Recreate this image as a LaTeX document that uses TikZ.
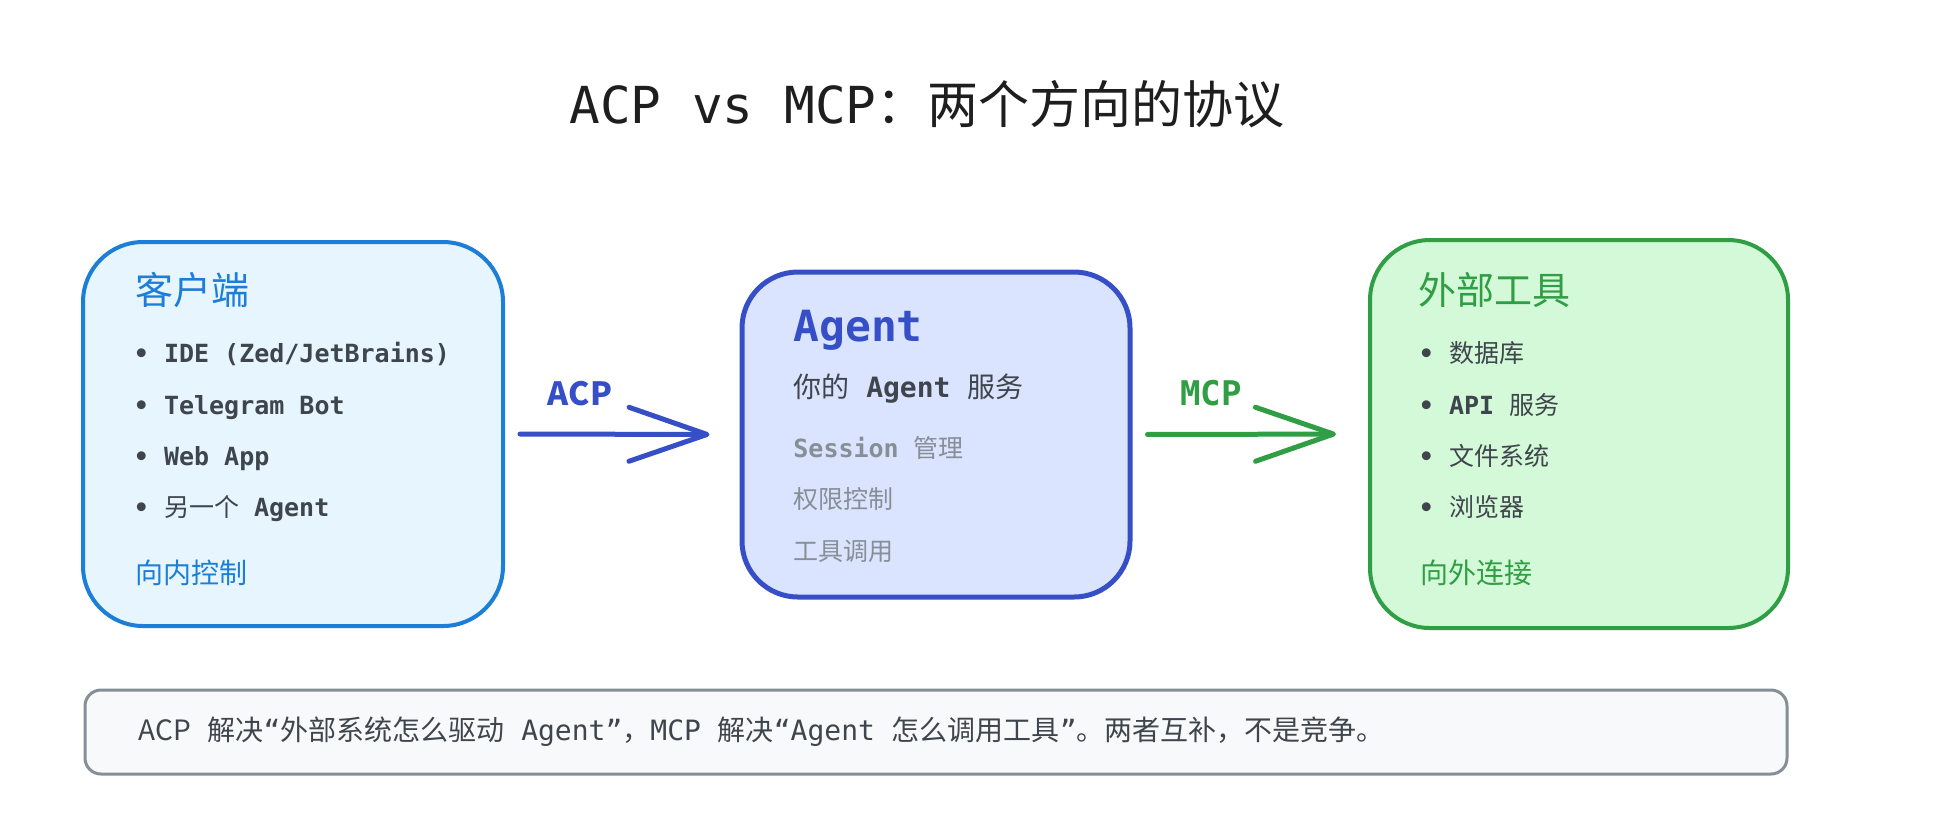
\documentclass[tikz,border=0pt]{standalone}
\usepackage{fontspec}
\setmainfont{DejaVu Sans Mono}
\newfontfamily\cjk{Noto Sans CJK SC}
\newcommand{\zh}[1]{{\cjk\mdseries #1}}
\usetikzlibrary{arrows.meta}
\definecolor{clientblue}{HTML}{1C7ED6}
\definecolor{clientfill}{HTML}{E7F5FF}
\definecolor{agentblue}{HTML}{364FC7}
\definecolor{agentfill}{HTML}{DBE4FF}
\definecolor{toolgreen}{HTML}{2F9E44}
\definecolor{toolfill}{HTML}{D3F9D8}
\definecolor{notegray}{HTML}{868E96}
\definecolor{notefill}{HTML}{F8F9FA}
\definecolor{bodytext}{HTML}{3F454C}
\definecolor{titletext}{HTML}{1E1E1E}
\tikzstyle{sketchbox} = [draw, line width=2pt, rounded corners=30pt, inner sep=0pt]
\tikzstyle{protoarrow} = [line width=2.5pt, line cap=round, -{Straight Barb[length=39pt,width=27pt,round]}]
\tikzstyle{label} = [anchor=base west, inner sep=0pt]
\tikzstyle{item} = [label, text=bodytext, font=\fontsize{12.5}{15}\selectfont\bfseries]

\begin{document}
\begin{tikzpicture}[x=0.5pt,y=0.5pt,yscale=-1]
\useasboundingbox[fill=white] (0,0) rectangle (1946,832);

% Title
\node[anchor=base, inner sep=0pt, text=titletext, font=\fontsize{25.5}{30}\selectfont] (title) at (927,123) {ACP vs MCP\zh{：两个方向的协议}};

%Rounded Rect: client
\node[sketchbox, draw=clientblue, fill=clientfill, minimum width=210pt, minimum height=192pt] (client) at (293,434) {};
%Rounded Rect: agent
\node[sketchbox, draw=agentblue, fill=agentfill, line width=2.5pt, rounded corners=28pt, minimum width=194pt, minimum height=162.5pt] (agent) at (936,434.5) {};
%Rounded Rect: tools
\node[sketchbox, draw=toolgreen, fill=toolfill, minimum width=209pt, minimum height=194pt] (tools) at (1579,434) {};
%Rounded Rect: note
\node[draw=notegray, fill=notefill, line width=1.5pt, rounded corners=8pt, minimum width=851pt, minimum height=42pt, inner sep=0pt] (note) at (936,732) {};

%Straight Lines: ACP
\draw[protoarrow, agentblue, shorten <=7.5pt, shorten >=15pt] (client.east) -- (agent.west);
\node[anchor=base, inner sep=0pt, text=agentblue, font=\fontsize{16}{19}\selectfont] (acplabel) at (580,405) {{\cjk\bfseries ACP}};
%Straight Lines: MCP
\draw[protoarrow, toolgreen, shorten <=7.5pt, shorten >=16pt] (agent.east) -- (tools.west);
\node[anchor=base, inner sep=0pt, text=toolgreen, font=\fontsize{17}{20}\selectfont\bfseries] (mcplabel) at (1211,405) {MCP};

% Text Node
\node[label, text=clientblue, font=\fontsize{19}{23}\selectfont] (clienthead) at (135,304) {\zh{客户端}};
\node[item] (c1) at (133.5,362) {• IDE (Zed/JetBrains)};
\node[item] (c2) at (133.5,414) {• Telegram Bot};
\node[item] (c3) at (133.5,465) {• Web App};
\node[item] (c4) at (133.5,516) {• \zh{另一个} Agent};
\node[label, text=clientblue, font=\fontsize{14}{17}\selectfont] (clientfoot) at (135,583) {\zh{向内控制}};

% Text Node
\node[label, text=agentblue, font=\fontsize{21.5}{26}\selectfont\bfseries] (agenthead) at (793,341) {Agent};
\node[item, font=\fontsize{14}{17}\selectfont\bfseries] (agentsub) at (793,397) {\zh{你的} Agent \zh{服务}};
\node[item, text=notegray] (a1) at (793,457) {Session \zh{管理}};
\node[item, text=notegray] (a2) at (793,508) {\zh{权限控制}};
\node[item, text=notegray] (a3) at (793,560) {\zh{工具调用}};

% Text Node
\node[label, text=toolgreen, font=\fontsize{19}{23}\selectfont] (toolhead) at (1418,304) {\zh{外部工具}};
\node[item] (t1) at (1418.5,362) {• \zh{数据库}};
\node[item] (t2) at (1418.5,414) {• API \zh{服务}};
\node[item] (t3) at (1418.5,465) {• \zh{文件系统}};
\node[item] (t4) at (1418.5,516) {• \zh{浏览器}};
\node[label, text=toolgreen, font=\fontsize{14}{17}\selectfont] (toolfoot) at (1420,583) {\zh{向外连接}};

% Text Node
\node[label, text=bodytext, font=\fontsize{14}{17}\selectfont] (notetext) at (138,740) {\zh{ACP} \zh{解决}“\zh{外部系统怎么驱动} Agent”\zh{，}MCP \zh{解决}“Agent \zh{怎么调用工具}”\zh{。两者互补，不是竞争。}};

\end{tikzpicture}
\end{document}
